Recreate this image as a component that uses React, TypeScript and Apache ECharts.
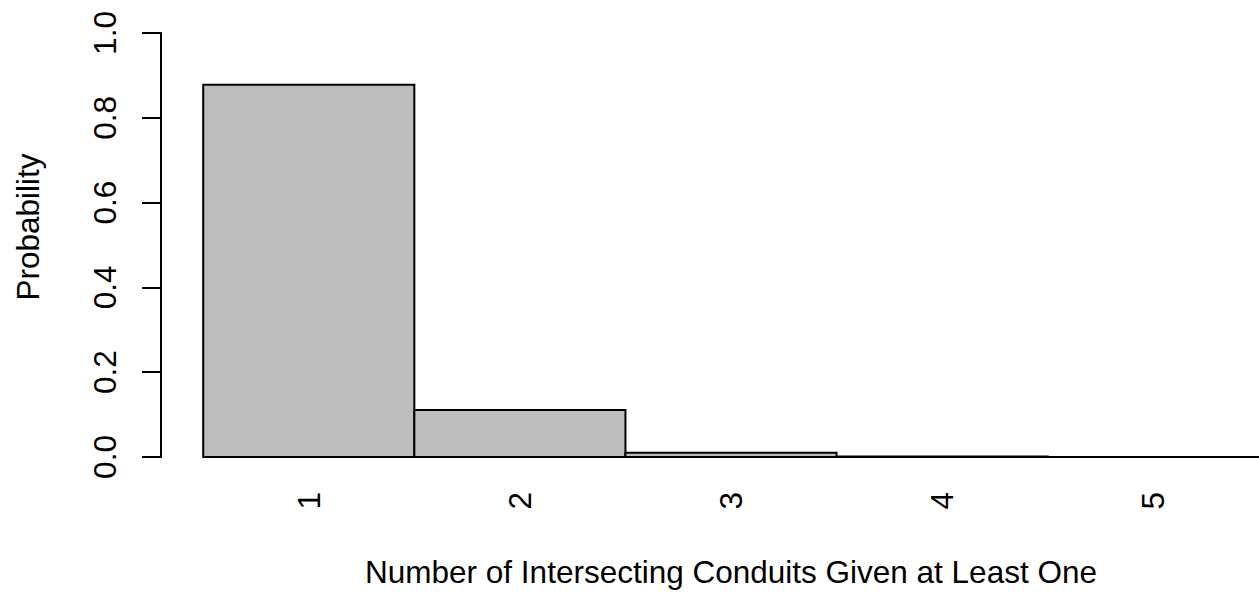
import React, { useEffect, useRef } from "react";
import * as echarts from "echarts";

// Number of intersecting conduits (given at least one) and their probabilities
const counts = [1, 2, 3, 4, 5];
const probabilities = [0.878, 0.111, 0.01, 0.001, 0.0002];
const yTicks = [0, 0.2, 0.4, 0.6, 0.8, 1.0];

const FONT = "'Liberation Sans', Arial, Helvetica, sans-serif";
const FONT_SIZE = 31.5;

export default function App() {
  const ref = useRef<HTMLDivElement>(null);

  useEffect(() => {
    if (!ref.current) return;
    const chart = echarts.init(ref.current, null, { renderer: "svg" });

    const data = counts.map((c, i) => [c, probabilities[i]]);

    chart.setOption({
      animation: false,
      backgroundColor: "#ffffff",
      // plot region runs past the visible frame on the right
      grid: { left: 161, right: 0, top: 33, bottom: 142 },
      xAxis: {
        type: "value",
        min: 0.3,
        max: 5.7,
        axisLine: { show: false },
        axisTick: { show: false },
        splitLine: { show: false },
        axisLabel: {
          customValues: counts,
          formatter: (v: number) => String(v),
          rotate: 90,
          margin: 35,
          fontSize: FONT_SIZE,
          fontFamily: FONT,
          color: "#000",
        },
        name: "Number of Intersecting Conduits Given at Least One",
        nameLocation: "middle",
        nameGap: 99,
        nameTextStyle: { fontSize: FONT_SIZE, fontFamily: FONT, color: "#000" },
      },
      yAxis: {
        type: "value",
        min: 0,
        max: 1,
        interval: 0.2,
        axisLine: { show: true, lineStyle: { color: "#000", width: 2 } },
        axisTick: { show: true, length: 19, lineStyle: { color: "#000", width: 2 } },
        splitLine: { show: false },
        axisLabel: {
          customValues: yTicks,
          formatter: (v: number) => v.toFixed(1),
          rotate: 90,
          margin: 40,
          fontSize: FONT_SIZE,
          fontFamily: FONT,
          color: "#000",
        },
      },
      graphic: [
        {
          type: "text",
          x: 28,
          y: 227,
          rotation: Math.PI / 2,
          style: {
            text: "Probability",
            font: `${FONT_SIZE}px ${FONT}`,
            fill: "#000",
            textAlign: "center",
            textVerticalAlign: "middle",
          },
        },
      ],
      series: [
        {
          type: "custom",
          data,
          renderItem: (params: any, api: any) => {
            const k = api.value(0);
            const v = api.value(1);
            const topLeft = api.coord([k - 0.5, v]);
            const bottomRight = api.coord([k + 0.5, 0]);
            return {
              type: "rect",
              shape: {
                x: topLeft[0],
                y: topLeft[1],
                width: bottomRight[0] - topLeft[0],
                height: bottomRight[1] - topLeft[1],
              },
              style: { fill: "#bebebe", stroke: "#000", lineWidth: 2 },
            };
          },
        },
      ],
    });

    return () => chart.dispose();
  }, []);

  return (
    <div
      style={{
        position: "absolute",
        left: 0,
        top: 0,
        width: 1259,
        height: 599,
        overflow: "hidden",
        background: "#fff",
      }}
    >
      <div ref={ref} style={{ width: 1301, height: 599 }} />
    </div>
  );
}
